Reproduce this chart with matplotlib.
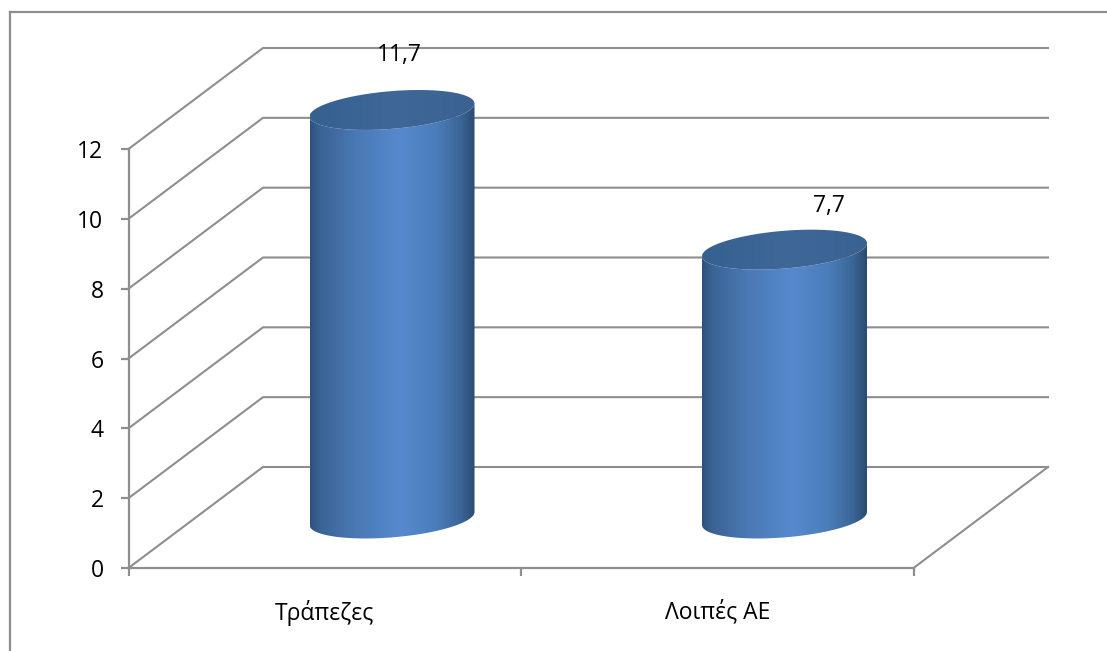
"""3D-looking cylinder chart: Τράπεζες vs Λοιπές ΑΕ."""

import matplotlib
matplotlib.use("Agg")
import matplotlib.pyplot as plt
import numpy as np
from matplotlib.colors import LinearSegmentedColormap
from matplotlib.lines import Line2D
from matplotlib.patches import PathPatch
from matplotlib.path import Path

categories = ["Τράπεζες", "Λοιπές ΑΕ"]
values = [11.7, 7.7]
value_labels = ["11,7", "7,7"]
y_ticks = [0, 2, 4, 6, 8, 10, 12]

# ---------------------------------------------------------------------------
# Layout, in pixels of the 1107x651 figure
# ---------------------------------------------------------------------------
W, H = 1107, 651
LEFT, RIGHT, BASE, TOP = 128.5, 913.5, 568, 149
GREY = "#8e8e8e"
TEXT_FS = 16.5

PX_X = (RIGHT - LEFT) / len(categories)  # px per category
PX_Y = (BASE - TOP) / y_ticks[-1]  # px per value unit
DEPTH_X = 134.5 / PX_X
DEPTH_Y = 101 / PX_Y

# cylinder ellipse
RX = 82.5 / PX_X
RY = 18.9 / PX_Y
TILT = 6.5 / PX_Y

# hand-placed data labels: px offset from the top ellipse centre
label_dx = [7.5, 44.5]
label_dy = [55, 44]

side_cmap = LinearSegmentedColormap.from_list(
    "side",
    [
        (0.00, "#2f517c"),
        (0.06, "#3a6394"),
        (0.28, "#4a79b4"),
        (0.55, "#558aCE"),
        (0.78, "#4a7cb8"),
        (0.92, "#3a6496"),
        (1.00, "#2b4a70"),
    ],
)
top_cmap = LinearSegmentedColormap.from_list("top", ["#36608f", "#3f6899", "#3a6291"])


def ellipse(cx, cy, t):
    return cx + RX * np.cos(t), cy + RY * np.sin(t) + TILT * np.cos(t)


def draw_cylinder(ax, cx, y0, y1):
    t = np.linspace(0, 2 * np.pi, 200)
    # side: lower half of the bottom ellipse, then back along the top ellipse
    t_low = np.linspace(-np.pi, 0, 100)
    bx, by = ellipse(cx, y0, t_low)
    tx, ty = ellipse(cx, y1, t_low[::-1])
    side = Path(np.column_stack([np.r_[bx, tx], np.r_[by, ty]]))
    grad = np.linspace(0, 1, 256).reshape(1, -1)
    extent = (cx - RX, cx + RX, y0 - 1.5, y1 + 1.5)
    im = ax.imshow(grad, cmap=side_cmap, extent=extent, aspect="auto", zorder=3)
    im.set_clip_box(fig.bbox)
    im.set_clip_path(PathPatch(side, transform=ax.transData))

    ex, ey = ellipse(cx, y1, t)
    lid = Path(np.column_stack([ex, ey]))
    im2 = ax.imshow(grad, cmap=top_cmap, extent=extent, aspect="auto", zorder=4)
    im2.set_clip_box(fig.bbox)
    im2.set_clip_path(PathPatch(lid, transform=ax.transData))


fig = plt.figure(figsize=(W / 100, H / 100), dpi=100)
plt.rcParams["font.family"] = ["Open Sans", "DejaVu Sans"]
ax = fig.add_axes([LEFT / W, 1 - BASE / H, (RIGHT - LEFT) / W, (BASE - TOP) / H])
ax.set_xlim(0, len(categories))
ax.set_ylim(0, y_ticks[-1])

# walls
n = len(categories)
for v in y_ticks:
    ax.plot([0, DEPTH_X, n + DEPTH_X], [v, v + DEPTH_Y, v + DEPTH_Y],
            color=GREY, lw=1.5, clip_on=False, zorder=1, solid_joinstyle="miter")
ax.plot([n, n + DEPTH_X], [0, DEPTH_Y], color=GREY, lw=1.5, clip_on=False, zorder=1)

for i, (val, lab) in enumerate(zip(values, value_labels)):
    cx = i + 0.5 + DEPTH_X / 2
    y0 = DEPTH_Y / 2 - 1 / PX_Y
    draw_cylinder(ax, cx, y0, y0 + val)
    ax.text(cx + label_dx[i] / PX_X, y0 + val + label_dy[i] / PX_Y, lab,
            ha="center", va="center", fontsize=TEXT_FS, color="black", zorder=5)

# imshow resets the limits
ax.set_xlim(0, n)
ax.set_ylim(0, y_ticks[-1])
ax.patch.set_visible(False)

for side in ("top", "right"):
    ax.spines[side].set_visible(False)
for side in ("left", "bottom"):
    ax.spines[side].set_color(GREY)
    ax.spines[side].set_linewidth(1.6)

ax.set_yticks(y_ticks)
ax.tick_params(axis="y", length=6, width=1.6, color=GREY, pad=12, labelsize=TEXT_FS)
ax.set_xticks(range(n + 1))
ax.set_xticklabels([])
ax.tick_params(axis="x", which="major", length=6, width=1.6, color=GREY)
ax.set_xticks([i + 0.5 for i in range(n)], minor=True)
ax.set_xticklabels(categories, minor=True)
ax.tick_params(axis="x", which="minor", length=0, pad=23, labelsize=TEXT_FS)

# chart frame: only the top and left edges show
fig.add_artist(Line2D([10 / W, 10 / W], [0, 1 - 12 / H], color=GREY, lw=1.6))
fig.add_artist(Line2D([10 / W, 1], [1 - 12 / H, 1 - 12 / H], color=GREY, lw=1.6))

fig.savefig("out.png", dpi=100)
